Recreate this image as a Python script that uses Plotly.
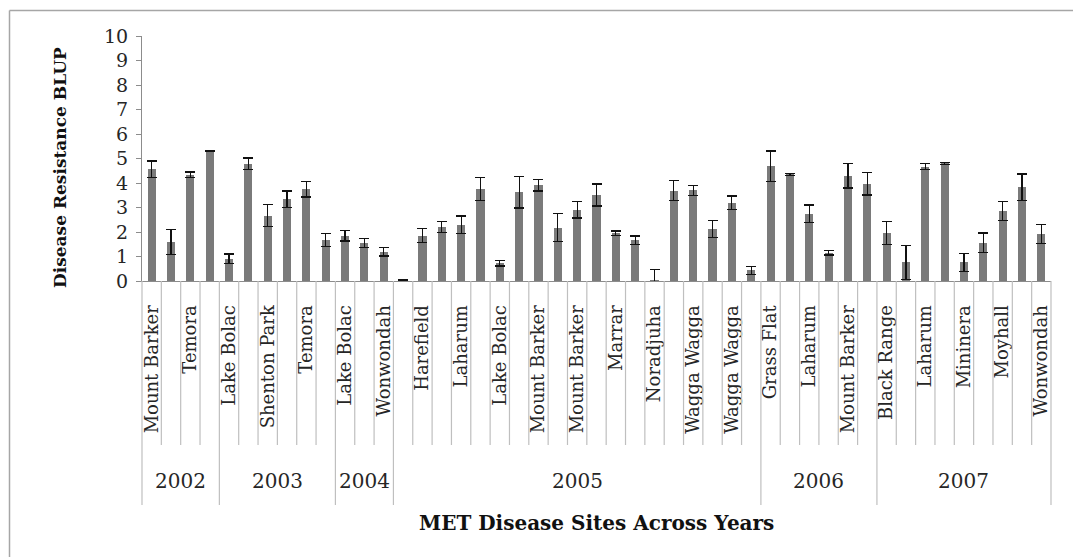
import plotly.graph_objects as go

# Trial years and the number of MET sites tested in each
years = ["2002", "2003", "2004", "2005", "2006", "2007"]
sites_per_year = [4, 6, 3, 19, 6, 9]

# Site names printed on the axis (every second site carries a label)
site_labels = [
    "Mount Barker", "Temora",
    "Lake Bolac", "Shenton Park", "Temora",
    "Lake Bolac", "Wonwondah",
    "Harefield", "Laharum", "Lake Bolac", "Mount Barker", "Mount Barker",
    "Marrar", "Noradjuha", "Wagga Wagga", "Wagga Wagga",
    "Grass Flat", "Laharum", "Mount Barker",
    "Black Range", "Laharum", "Mininera", "Moyhall", "Wonwondah",
]

# Disease resistance BLUP per site and its standard error
blup = [
    4.57, 1.59, 4.33, 5.30,
    0.91, 4.78, 2.67, 3.33, 3.74, 1.67,
    1.85, 1.55, 1.20,
    0.05, 1.85, 2.21, 2.30, 3.77, 0.72, 3.63, 3.91, 2.18, 2.90,
    3.51, 1.95, 1.66, 0.02, 3.69, 3.70, 2.12, 3.19, 0.43,
    4.69, 4.35, 2.75, 1.16, 4.30, 3.97,
    1.96, 0.76, 4.67, 4.80, 0.76, 1.56, 2.85, 3.82, 1.92,
]
std_err = [
    0.33, 0.50, 0.12, 0.03,
    0.19, 0.24, 0.46, 0.34, 0.31, 0.27,
    0.22, 0.18, 0.18,
    0.02, 0.29, 0.23, 0.35, 0.47, 0.11, 0.65, 0.24, 0.56, 0.33,
    0.45, 0.09, 0.18, 0.45, 0.40, 0.21, 0.35, 0.28, 0.15,
    0.62, 0.03, 0.35, 0.10, 0.50, 0.46,
    0.48, 0.69, 0.11, 0.03, 0.37, 0.40, 0.38, 0.55, 0.40,
]

n_sites = len(blup)
x_pos = list(range(n_sites))
label_pos = list(range(0, n_sites, 2))

SERIF = "DejaVu Serif"
GRID_GREY = "#bfbfbf"
AXIS_GREY = "#8c8c8c"

fig = go.Figure()
fig.add_trace(go.Bar(
    x=x_pos,
    y=blup,
    width=0.42,
    marker=dict(color="#7a7a7a", line=dict(width=0)),
    error_y=dict(type="data", array=std_err, visible=True,
                 color="#111111", thickness=1.2, width=5),
    showlegend=False,
))

# Plot-area geometry (px) used to place the category-axis furniture
W, H = 1073, 557
L, R, T, B = 142, 22, 36, 276
plot_w = W - L - R
plot_h = H - T - B


def px_to_paper_y(py):
    return (H - B - py) / plot_h


def px_to_paper_x(px):
    return (px - L) / plot_w


def idx_to_paper_x(edge):
    # edge is a boundary between categories, in category units
    return (edge + 0.5) / n_sites


shapes = []
# short dividers between every pair of neighbouring sites
site_div_bottom = px_to_paper_y(445)
year_div_bottom = px_to_paper_y(505)
year_edges = [0]
for c in sites_per_year:
    year_edges.append(year_edges[-1] + c)
for k in range(n_sites + 1):
    xe = idx_to_paper_x(k - 0.5)
    y1 = year_div_bottom if k in year_edges else site_div_bottom
    shapes.append(dict(type="line", xref="paper", yref="paper",
                       x0=xe, x1=xe, y0=0, y1=y1,
                       line=dict(color=GRID_GREY, width=1.2)))

# outer chart frame (left and top edges)
shapes.append(dict(type="line", xref="paper", yref="paper",
                   x0=px_to_paper_x(9.5), x1=px_to_paper_x(9.5),
                   y0=px_to_paper_y(10.5), y1=px_to_paper_y(H + 2),
                   line=dict(color="#a6a6a6", width=1.5)))
shapes.append(dict(type="line", xref="paper", yref="paper",
                   x0=px_to_paper_x(9.5), x1=px_to_paper_x(W + 2),
                   y0=px_to_paper_y(10.5), y1=px_to_paper_y(10.5),
                   line=dict(color="#a6a6a6", width=1.5)))

annotations = []
# year group labels
for i, yr in enumerate(years):
    centre = (year_edges[i] + year_edges[i + 1]) / 2 - 0.5
    annotations.append(dict(
        x=idx_to_paper_x(centre), y=px_to_paper_y(481),
        xref="paper", yref="paper", text=yr, showarrow=False,
        xanchor="center", yanchor="middle",
        font=dict(family=SERIF, size=20, color="#262626")))

# axis titles
annotations.append(dict(
    x=px_to_paper_x(596), y=px_to_paper_y(523), xref="paper", yref="paper",
    text="<b>MET Disease Sites Across Years</b>", showarrow=False,
    xanchor="center", yanchor="middle",
    font=dict(family=SERIF, size=20, color="#111111")))
annotations.append(dict(
    x=px_to_paper_x(60), y=px_to_paper_y(168), xref="paper", yref="paper",
    text="<b>Disease Resistance BLUP</b>", showarrow=False, textangle=-90,
    xanchor="center", yanchor="middle",
    font=dict(family=SERIF, size=17, color="#111111")))

fig.update_layout(
    width=W, height=H,
    margin=dict(l=L, r=R, t=T, b=B, pad=0),
    paper_bgcolor="white", plot_bgcolor="white",
    bargap=0,
    shapes=shapes,
    annotations=annotations,
    xaxis=dict(
        range=[-0.5, n_sites - 0.5],
        tickmode="array", tickvals=label_pos, ticktext=site_labels,
        tickangle=-90, ticks="", showgrid=False, zeroline=False,
        showline=True, linecolor=AXIS_GREY, linewidth=1,
        ticklabelstandoff=16,
        tickfont=dict(family=SERIF, size=18, color="#262626"),
    ),
    yaxis=dict(
        range=[0, 10], dtick=1, tick0=0,
        ticks="outside", ticklen=5, tickcolor=AXIS_GREY, tickwidth=1,
        showgrid=False, zeroline=False,
        showline=True, linecolor=AXIS_GREY, linewidth=1,
        tickfont=dict(family=SERIF, size=19, color="#262626"),
        ticklabelstandoff=4,
    ),
)

fig.write_html("out.html")
